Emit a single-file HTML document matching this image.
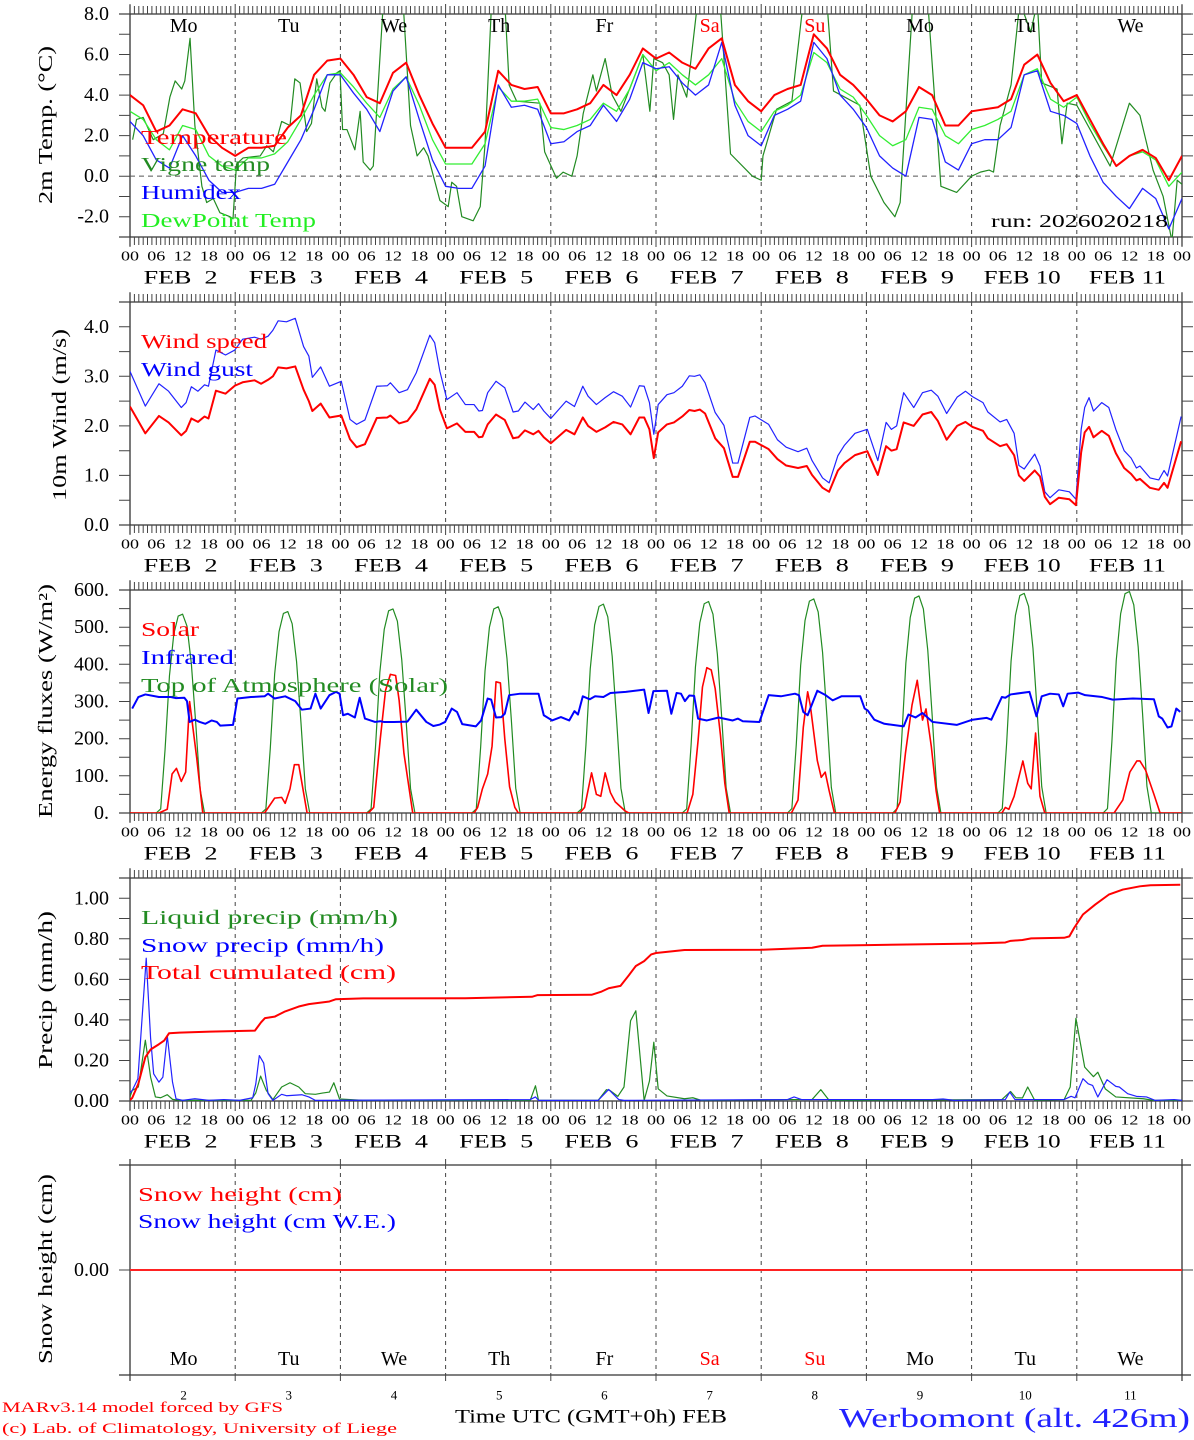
<!DOCTYPE html>
<html><head><meta charset="utf-8"><title>Werbomont meteogram</title>
<style>
html,body{margin:0;padding:0;background:#fff;}
svg{display:block;font-family:"Liberation Serif",serif;}
</style></head>
<body>
<svg id="chart" xmlns="http://www.w3.org/2000/svg" width="1194" height="1440" viewBox="0 0 1194 1440">
<rect x="0" y="0" width="1194" height="1440" fill="#fff"/>
<g id="axes"></g>
<g id="series"></g>
<g id="labels">
  <text x="46" y="125" transform="rotate(-90 46 125)" text-anchor="middle" dominant-baseline="central" font-size="20" textLength="158" lengthAdjust="spacingAndGlyphs">2m Temp. (°C)</text>
  <text x="60" y="415" transform="rotate(-90 60 415)" text-anchor="middle" dominant-baseline="central" font-size="20" textLength="172" lengthAdjust="spacingAndGlyphs">10m Wind (m/s)</text>
  <text x="46" y="701" transform="rotate(-90 46 701)" text-anchor="middle" dominant-baseline="central" font-size="20" textLength="234" lengthAdjust="spacingAndGlyphs">Energy fluxes (W/m²)</text>
  <text x="46" y="990" transform="rotate(-90 46 990)" text-anchor="middle" dominant-baseline="central" font-size="20" textLength="158" lengthAdjust="spacingAndGlyphs">Precip (mm/h)</text>
  <text x="46" y="1269" transform="rotate(-90 46 1269)" text-anchor="middle" dominant-baseline="central" font-size="20" textLength="190" lengthAdjust="spacingAndGlyphs">Snow height (cm)</text>

  <text x="141" y="138" dominant-baseline="central" font-size="20" fill="#ff0000" textLength="146" lengthAdjust="spacingAndGlyphs">Temperature</text>
  <text x="141" y="165" dominant-baseline="central" font-size="20" fill="#228b22" textLength="129" lengthAdjust="spacingAndGlyphs">Vigne temp</text>
  <text x="141" y="193" dominant-baseline="central" font-size="20" fill="#0000ff" textLength="100" lengthAdjust="spacingAndGlyphs">Humidex</text>
  <text x="141" y="221" dominant-baseline="central" font-size="20" fill="#22ee22" textLength="175" lengthAdjust="spacingAndGlyphs">DewPoint Temp</text>
  <text x="1168" y="221" text-anchor="end" dominant-baseline="central" font-size="18" fill="#000" textLength="177" lengthAdjust="spacingAndGlyphs">run: 2026020218</text>

  <text x="141" y="342" dominant-baseline="central" font-size="20" fill="#ff0000" textLength="126" lengthAdjust="spacingAndGlyphs">Wind speed</text>
  <text x="141" y="370" dominant-baseline="central" font-size="20" fill="#0000ff" textLength="112" lengthAdjust="spacingAndGlyphs">Wind gust</text>

  <text x="141" y="630" dominant-baseline="central" font-size="20" fill="#ff0000" textLength="58" lengthAdjust="spacingAndGlyphs">Solar</text>
  <text x="141" y="658" dominant-baseline="central" font-size="20" fill="#0000ff" textLength="93" lengthAdjust="spacingAndGlyphs">Infrared</text>
  <text x="141" y="686" dominant-baseline="central" font-size="20" fill="#228b22" textLength="307" lengthAdjust="spacingAndGlyphs">Top of Atmosphere (Solar)</text>

  <text x="141" y="918" dominant-baseline="central" font-size="20" fill="#228b22" textLength="257" lengthAdjust="spacingAndGlyphs">Liquid precip (mm/h)</text>
  <text x="141" y="946" dominant-baseline="central" font-size="20" fill="#0000ff" textLength="243" lengthAdjust="spacingAndGlyphs">Snow precip (mm/h)</text>
  <text x="141" y="973" dominant-baseline="central" font-size="20" fill="#ff0000" textLength="255" lengthAdjust="spacingAndGlyphs">Total cumulated (cm)</text>

  <text x="138" y="1195" dominant-baseline="central" font-size="20" fill="#ff0000" textLength="204" lengthAdjust="spacingAndGlyphs">Snow height (cm)</text>
  <text x="138" y="1222" dominant-baseline="central" font-size="20" fill="#0000ff" textLength="258" lengthAdjust="spacingAndGlyphs">Snow height (cm W.E.)</text>

  <text x="591" y="1417" text-anchor="middle" dominant-baseline="central" font-size="19" fill="#000" textLength="272" lengthAdjust="spacingAndGlyphs">Time UTC (GMT+0h) FEB</text>
  <text x="1190" y="1418" text-anchor="end" dominant-baseline="central" font-size="27" fill="#2222ff" textLength="351" lengthAdjust="spacingAndGlyphs">Werbomont (alt. 426m)</text>
  <text x="2" y="1408" dominant-baseline="central" font-size="15" fill="#ff0000" textLength="281" lengthAdjust="spacingAndGlyphs">MARv3.14 model forced by GFS</text>
  <text x="2" y="1429" dominant-baseline="central" font-size="15" fill="#ff0000" textLength="395" lengthAdjust="spacingAndGlyphs">(c) Lab. of Climatology, University of Liege</text>
</g>
</svg>
<script>
// ---------- data ----------
const dayNames = ['Mo','Tu','We','Th','Fr','Sa','Su','Mo','Tu','We'];
const dayDates = [2,3,4,5,6,7,8,9,10,11];
const weekendDays = ['Sa','Su'];

const tempHours = [0,3,6,9,12,15,18,21,24,27,30,33,36,39,42,45,48,51,54,57,60,63,66,69,72,75,78,81,84,87,90,93,96,99,102,105,108,111,114,117,120,123,126,129,132,135,138,141,144,147,150,153,156,159,162,165,168,171,174,177,180,183,186,189,192,195,198,201,204,207,210,213,216,219,222,225,228,231,234,237,240];
const temperature = [4.0,3.5,2.2,2.5,3.3,3.1,2.0,1.4,1.0, 1.4,1.4,1.5,2.4,3.0,5.0,5.7,5.8, 5.0,3.9,3.6,5.1,5.6,4.0,2.6,1.4, 1.4,1.4,2.2,5.2,4.5,4.3,4.4,3.1, 3.1,3.3,3.6,4.5,4.0,5.0,6.3,5.8, 6.1,5.6,5.3,6.3,6.8,4.5,3.7,3.2, 4.0,4.3,4.5,7.0,6.3,5.0,4.5,3.8, 3.0,2.7,3.2,4.4,4.0,2.5,2.5,3.2, 3.3,3.4,3.8,5.5,6.0,4.6,3.7,4.0, 2.8,1.6,0.5,1.0,1.3,0.9,-0.2,1.0];
const humidex = [2.7,2.0,0.8,0.4,2.0,1.0,-0.2,-0.8,-0.8, -0.6,-0.6,-0.4,0.7,1.8,3.3,5.0,5.0, 4.1,3.3,2.2,4.2,4.9,2.8,0.8,-0.5, -0.6,-0.6,0.5,4.5,3.4,3.5,3.3,1.6, 1.7,2.2,2.5,3.5,2.7,3.8,5.6,5.3, 5.4,4.6,4.0,4.5,6.6,3.5,2.0,1.5, 3.0,3.3,3.7,6.6,5.8,4.0,3.3,2.4, 1.0,0.4,0.0,2.9,2.8,0.7,0.3,1.6, 1.8,1.8,2.4,5.0,5.2,3.2,3.0,2.6, 1.0,-0.3,-1.0,-1.6,-0.6,-1.1,-2.6,-1.1];
const dewpoint = [3.2,2.8,1.8,1.3,2.5,2.3,1.0,0.5,0.3, 0.9,0.9,1.1,1.7,2.8,4.0,5.0,5.1, 4.4,3.6,2.9,4.3,4.9,3.5,1.8,0.6, 0.6,0.6,1.6,4.4,3.7,3.7,3.8,2.4, 2.3,2.5,2.8,3.6,3.2,4.3,6.0,5.2, 5.6,5.0,4.5,5.0,5.8,3.7,2.7,2.2, 3.2,3.5,4.0,6.1,5.6,4.3,3.9,3.0, 2.0,1.5,1.8,3.4,3.3,2.0,1.6,2.3, 2.5,2.8,3.2,5.0,5.3,3.8,3.4,3.9, 2.6,1.5,0.5,1.0,1.2,0.8,-0.5,0.2];

const vigneHours = [0.6,1.5,3,5.3,7.6,9.1,10.3,11.8,12.5,13.7,14.8,16.4,17.5,19,20.5,22.8,23.5,24.3,25.8,29.7,31.2,32.7,34.6,36.5,37.6,38.8,40.3,41.4,42.6,43.8,44.5,45.6,47.2,47.9,48.5,49.5,51.3,52.5,53.2,54.8,55.5,57.8,62.3,64,65.5,67,68,70.7,72.6,73.4,74.5,75.7,78.3,79.9,81,82.5,85.5,86.5,88.2,93.5,94.6,97.3,98.8,100.8,102,103.4,105.6,106.4,108.4,110,112,117,118.6,119.5,121.5,123,124,125,127,129.5,134.6,137,142,144,144.4,147.5,151,153.6,159,160.5,166.5,169,172,174.5,175.7,178.6,182,185,188.6,192,194,196,197,198.5,201,203,205.5,207,208,211.5,212.6,213.8,216,223.6,228,230.4,233.4,235.7,237.7,238.9,240];
const vigneTemp = [1.8,2.8,2.9,1.8,2.1,3.9,4.7,4.3,4.7,6.8,2.5,-0.5,-1.3,-1.1,-1.8,-2.0,-2.1,0.6,0.9,1.0,1.5,1.2,2.7,2.5,4.8,4.6,2.2,2.6,4.8,3.4,3.2,4.6,5.1,5.2,2.3,2.3,1.3,3.2,0.7,0.3,0.5,8.6,8.6,2.5,1.0,1.4,1.0,-1.2,-1.5,-0.3,-0.5,-2.0,-2.2,-1.5,1.6,8.6,8.6,4.5,3.7,3.6,1.2,-0.1,0.2,0.0,1.0,3.1,5.0,4.2,5.8,4.0,3.2,6.0,3.2,5.8,5.6,5.0,2.8,5.0,3.9,8.6,8.6,1.1,0.0,-0.2,1.0,3.3,3.7,8.6,8.6,4.2,3.5,0.0,-1.3,-2.0,-1.3,8.6,8.6,-0.5,-0.8,0.0,0.2,0.3,0.2,2.5,4.5,8.6,7.1,8.6,4.6,4.3,1.6,3.6,3.5,0.5,3.6,3.0,0.3,-1.0,-3.2,-0.2,-0.4];

const windHours = [0,3.5,6.6,8.8,11.7,12.8,14,15.5,17,17.9,19.6,21.8,23.9,25.7,28.4,29.9,31.5,32.6,33.8,35.7,37.7,39.6,40.8,41.6,43.5,45.5,48.2,50.2,51.7,53.6,56.3,58.7,59.4,61.4,63.3,65.3,68.4,69.5,70.7,72.3,74.6,76.5,78.5,79.6,80.4,81.6,83.5,85.5,87.4,88.6,90.1,92,93.2,94.4,96,99.5,101.4,103.3,104.5,106.4,108.4,110.3,112.3,114.2,116.2,117.3,118.5,119.5,120.5,122.5,124.1,126,127.6,128.8,130,131.2,133.5,135.5,137.5,138.7,141.4,142.6,145.7,147.7,149.7,152.4,154.4,155.6,158,159.5,161.5,163,165.4,168.2,170.6,172.5,173.7,174.9,176.5,178.8,180.8,182.8,184.3,186.3,188.7,190.6,192.2,194.6,195.7,198.5,200,201.7,202.8,204,206.4,207.6,208.7,209.9,211.9,214.3,215.8,217,217.8,218.8,219.8,221.7,223.3,224.9,226.8,228.4,229.6,230.4,232.7,234.7,235.9,236.7,239.8];
const windSpeed = [2.39,1.85,2.2,2.07,1.81,1.9,2.15,2.08,2.19,2.15,2.71,2.65,2.81,2.88,2.92,2.85,2.93,3.0,3.18,3.16,3.2,2.73,2.5,2.3,2.45,2.17,2.21,1.73,1.57,1.63,2.16,2.17,2.21,2.05,2.1,2.33,2.95,2.83,2.33,1.95,2.05,1.88,1.88,1.77,1.78,2.03,2.23,2.12,1.75,1.77,1.91,1.83,1.9,1.77,1.65,1.92,1.83,2.17,2.0,1.88,1.97,2.08,2.03,1.83,2.17,2.17,1.93,1.35,1.87,2.03,2.07,2.19,2.32,2.3,2.33,2.25,1.75,1.55,0.97,0.97,1.68,1.68,1.53,1.33,1.2,1.15,1.19,1.01,0.75,0.67,1.1,1.25,1.41,1.49,1.01,1.59,1.5,1.53,2.07,2.0,2.23,2.28,2.1,1.72,2.0,2.08,1.98,1.9,1.75,1.59,1.63,1.41,1.0,0.89,1.1,0.98,0.57,0.42,0.55,0.52,0.4,1.47,1.87,1.98,1.77,1.9,1.8,1.45,1.15,1.03,0.9,0.93,0.75,0.71,0.85,0.75,1.69];
const windGust = [3.1,2.4,2.85,2.7,2.37,2.47,2.79,2.7,2.83,2.8,3.53,3.43,3.53,3.75,3.79,3.75,3.81,3.93,4.12,4.1,4.17,3.6,3.41,2.98,3.19,2.8,2.9,2.13,2.03,2.12,2.8,2.81,2.87,2.67,2.73,3.07,3.83,3.68,3.1,2.53,2.67,2.43,2.43,2.3,2.31,2.67,2.9,2.77,2.28,2.3,2.48,2.33,2.45,2.3,2.15,2.5,2.39,2.8,2.6,2.43,2.57,2.69,2.6,2.38,2.81,2.8,2.47,1.83,2.43,2.63,2.67,2.8,3.01,3.0,3.03,2.87,2.27,2.01,1.25,1.25,2.17,2.2,2.03,1.72,1.57,1.48,1.55,1.3,0.95,0.85,1.4,1.61,1.85,1.93,1.3,2.07,1.93,2.0,2.67,2.37,2.67,2.72,2.6,2.25,2.58,2.7,2.59,2.47,2.28,2.08,2.13,1.85,1.2,1.13,1.43,1.19,0.67,0.55,0.71,0.67,0.52,1.93,2.37,2.57,2.3,2.47,2.37,1.93,1.5,1.35,1.15,1.19,0.95,0.91,1.1,0.99,2.19];

const toaDayHours = [6,7,8,9,10,11,12,13,14,15,16,17];
const toaDaily = [
 [0,11,171,369,482,530,535,503,401,241,64,0],
 [0,11,173,374,488,537,542,509,407,244,65,0],
 [0,11,176,379,494,544,549,516,412,247,66,0],
 [0,11,178,383,500,549,555,522,416,250,67,0],
 [0,11,180,388,506,556,562,528,422,253,67,0],
 [0,11,182,393,512,563,569,535,427,256,68,0],
 [0,12,184,397,518,570,576,541,432,259,69,0],
 [0,12,187,403,526,578,584,549,438,263,70,0],
 [0,12,189,408,532,585,591,556,443,266,71,0],
 [0,12,191,411,536,590,596,560,447,268,72,0]
];
const solarHours = [0,6.6,8.5,9.6,10.6,11.7,12.7,13.6,15.2,16.6,30.7,33,34.6,35.4,36.5,37.5,38.5,40.4,54.4,55.6,57.1,58.3,59.4,60.6,61.4,62.5,64.5,78.5,79.3,80.4,81.6,82.6,83.5,84.5,85.5,86.6,87.8,88.6,102.6,103.7,105.3,106.4,107.4,108.4,109.6,110.7,113,113.8,127.1,128.4,129.6,130.6,131.6,132.6,133.5,134.7,135.7,136.7,150.9,152.4,153.6,154.6,155.2,156.8,157.7,158.6,159.5,160.7,174.5,175.7,176.9,178.4,179.6,180.8,181.6,182.8,183.9,184.7,198.9,199.7,200.5,201.7,203.7,204.8,205.6,206.6,207.6,208.7,224.5,226.5,228.1,229.7,230.4,231.7,233.6,235,240];
const solarFlux = [0,0,10,105,120,85,110,300,150,0,0,40,42,26,65,130,130,0,0,15,200,330,373,370,303,160,0,0,15,65,105,180,353,350,200,70,15,0,0,15,108,50,45,108,55,30,5,0,0,50,195,339,391,385,335,210,80,0,0,35,230,326,290,141,96,110,60,0,0,30,160,290,357,250,280,180,60,0,0,15,10,45,140,80,65,215,45,0,0,35,110,140,140,115,50,0,0];
const irHours = [0.5,1.9,3.5,6.6,9.3,10.5,12.4,13,13.6,14.8,15.9,17.2,18.6,19.8,20.6,23.5,24.5,27.6,30.7,31.5,33,35.4,37.7,39.2,41.2,42.3,43.5,45.5,47,47.8,48.6,49.7,51.3,52.4,53.6,55.9,57.1,57.9,60.2,63.3,65.3,67.6,69.2,70.7,71.9,73.4,74.6,75.8,78.9,80.1,81.6,82.4,83.5,84.7,85.5,86.5,89,93.2,94.4,96.3,98.3,100.2,101.4,102.2,103.3,104.9,106.1,108,109.6,113.1,117.3,118.3,119.4,122.5,123.5,124.7,125.7,126.6,127.6,128.7,129.6,131.6,134.3,137.5,138.7,139.8,143.6,145.7,148.5,151.7,152.6,153.6,154.6,156.8,158.7,160.3,162.3,166.6,167.6,168.3,169.8,172.1,176.5,177.6,179.2,180.8,183.1,188.6,192.2,195.4,196.5,198.9,199.7,200.9,205.2,206.8,208,209.9,211.9,212.9,213.9,216.3,217.9,221.8,224.2,228.8,233.6,234.7,235.5,236.7,237.6,238.7,239.6];
const irFlux = [281,312,319,312,312,309,310,301,245,251,245,240,249,245,235,237,308,312,314,321,308,314,301,278,281,321,281,317,326,321,263,267,257,310,254,245,247,245,245,246,278,245,234,238,245,281,272,239,233,249,308,305,257,258,267,317,321,321,263,249,258,249,274,265,314,306,314,312,323,326,332,269,328,329,267,323,321,301,316,315,254,249,257,249,254,247,245,317,314,321,317,272,263,329,317,303,314,314,281,276,251,240,233,265,257,269,245,237,251,256,251,312,310,319,326,260,314,321,319,287,321,324,317,312,305,308,306,260,254,230,233,281,272];

const cumHours = [0,0.5,1.9,3.5,4.7,6.6,7.8,8.9,11.3,18.3,28.5,29.9,30.8,33,35.4,38.5,40.8,45.5,47,53.2,76.5,91.7,92.9,105.3,107.6,109.2,111.9,113.8,115.4,117.3,118.9,120,126.5,143.8,150,155.6,158,168.2,191.8,199.7,200.9,203.6,205.6,213.1,214.3,215.4,217.4,220.2,223.3,226.5,230.4,232.8,239.6];
const cumulated = [0.005,0.015,0.085,0.216,0.254,0.28,0.298,0.334,0.337,0.342,0.347,0.388,0.409,0.416,0.442,0.466,0.478,0.491,0.502,0.506,0.507,0.514,0.522,0.524,0.54,0.556,0.568,0.62,0.666,0.69,0.723,0.73,0.745,0.746,0.751,0.756,0.766,0.769,0.776,0.782,0.79,0.794,0.802,0.805,0.812,0.854,0.92,0.969,1.018,1.043,1.059,1.064,1.067];
const liquidHours = [0,0.5,1.9,3.5,4.7,5.8,7,8.5,9.7,11.3,27.6,28.7,29.8,31.1,32.6,34.6,36.5,38.5,40,42.3,43.9,45.5,46.5,47.8,53.2,91.3,92.5,93.2,106.8,108.7,109.5,111.3,112.7,114.2,115.4,117.3,118.5,119.5,120.5,122.5,126.5,128.4,130.4,150,155.6,157.6,159.5,198.9,200.9,202.1,203.6,204.8,206.4,213.1,214.5,215.8,217.8,219.8,220.8,222.5,224.9,231.2,233.5,240];
const liquidPrecip = [0.02,0.052,0.069,0.30,0.118,0.02,0.016,0.031,0.008,0.003,0.003,0.04,0.123,0.052,0.007,0.069,0.09,0.069,0.036,0.033,0.039,0.044,0.09,0.01,0.003,0.003,0.075,0.003,0.003,0.056,0.052,0.023,0.069,0.396,0.445,0.003,0.098,0.29,0.06,0.025,0.011,0.016,0.003,0.007,0.007,0.056,0.003,0.007,0.047,0.016,0.015,0.069,0.003,0.007,0.069,0.408,0.167,0.12,0.142,0.06,0.02,0.011,0.003,0.003];
const snowHours = [0,0.5,1.8,3.7,4.7,5.4,6.6,7.5,8.5,9.7,10.5,12,14.8,18,21.4,25,28,28.7,29.5,30.5,31.5,32.6,34.6,35.7,39.2,40.8,42.3,91.3,92.5,93.2,106.8,109.2,111.5,112.7,150,151.5,153.2,183.1,185.5,188,199.7,200.7,201.9,213.1,214.7,215.6,217.4,218.6,219.6,220.8,222.9,224.9,225.7,227.6,229.6,231.9,233.9,238.2,240];
const snowPrecip = [0.04,0.052,0.11,0.704,0.31,0.134,0.093,0.118,0.322,0.093,0.011,0.003,0.011,0.003,0.007,0.003,0.016,0.085,0.224,0.187,0.036,0.003,0.033,0.026,0.031,0.02,0.003,0.007,0.02,0.003,0.003,0.057,0.007,0.003,0.007,0.02,0.007,0.007,0.01,0.003,0.007,0.044,0.007,0.007,0.023,0.016,0.11,0.085,0.077,0.02,0.105,0.072,0.069,0.036,0.023,0.02,0.003,0.007,0.003];

const snowHeightHours = [0,240];
const snowHeight = [0,0];

const tempTicks = [-2,0,2,4,6,8];
const tempTickLabels = ['-2.0','0.0','2.0','4.0','6.0','8.0'];
const windTicks = [0,1,2,3,4];
const windTickLabels = ['0.0','1.0','2.0','3.0','4.0'];
const energyTicks = [0,100,200,300,400,500,600];
const energyTickLabels = ['0.','100.','200.','300.','400.','500.','600.'];
const precipTicks = [0,0.2,0.4,0.6,0.8,1.0];
const precipTickLabels = ['0.00','0.20','0.40','0.60','0.80','1.00'];
const snowTicks = [0];
const snowTickLabels = ['0.00'];

// ---------- drawing ----------
const NS = 'http://www.w3.org/2000/svg';
const axesG = document.getElementById('axes');
const seriesG = document.getElementById('series');
const labelsG = document.getElementById('labels');
function mk(tag, attrs, parent){
  const e = document.createElementNS(NS, tag);
  for (const k in attrs) e.setAttribute(k, attrs[k]);
  parent.appendChild(e);
  return e;
}
const X0 = 130, X1 = 1182;
function xh(h){ return X0 + h * (X1 - X0) / 240; }
const P = [
  {top:14,  bot:237,  min:-3, max:8,   minorStep:1,   minorFrom:-3, name:'temp'},
  {top:302, bot:525,  min:0,  max:4.5, minorStep:0.5, minorFrom:0,  name:'wind'},
  {top:590, bot:813,  min:0,  max:600, minorStep:50,  minorFrom:0,  name:'energy'},
  {top:878, bot:1101, min:0,  max:1.1, minorStep:0.1, minorFrom:0,  name:'precip'},
  {top:1165,bot:1375, min:-1, max:1,   minorStep:0,   minorFrom:0,  name:'snow'}
];
function yv(p, v){ return p.bot - (v - p.min) / (p.max - p.min) * (p.bot - p.top); }
const ticksSets = [[tempTicks,tempTickLabels],[windTicks,windTickLabels],[energyTicks,energyTickLabels],[precipTicks,precipTickLabels],[snowTicks,snowTickLabels]];

P.forEach((p, pi) => {
  const cp = mk('clipPath', {id:'clip'+pi}, axesG);
  mk('rect', {x:X0, y:p.top, width:X1-X0, height:p.bot-p.top}, cp);
  const bt = mk('line', {x1:119, x2:1191, y1:p.top, y2:p.top, stroke:'#333', 'stroke-width':1.3}, axesG);
  
  
  const bb = mk('line', {x1:119, x2:1191, y1:p.bot, y2:p.bot, stroke:'#333', 'stroke-width':1.3}, axesG);
  
  
  const ext = pi === 4 ? 6 : 9;
  const bl = mk('line', {x1:X0, x2:X0, y1:p.top-ext, y2:p.bot+ext, stroke:'#333', 'stroke-width':1.3}, axesG);
  
  
  const br = mk('line', {x1:X1, x2:X1, y1:p.top-ext, y2:p.bot+ext, stroke:'#333', 'stroke-width':1.3}, axesG);
  
  
  let d = '';
  if (pi < 4) {
    for (let h = 0; h <= 240; h++) {
      const x = xh(h).toFixed(1);
      const L = (h % 24 === 0) ? 10 : 8;
      d += `M${x},${p.top}v${-L}M${x},${p.bot}v${L}`;
    }
  } else {
    for (let h = 0; h <= 240; h += 24) {
      const x = xh(h).toFixed(1);
      d += `M${x},${p.top}v-6M${x},${p.bot}v6`;
    }
  }
  const xt = mk('path', {d:d, stroke:'#444', 'stroke-width':1, fill:'none'}, axesG);
  
  
  let dd = '';
  for (let h = 24; h < 240; h += 24) { const x = xh(h).toFixed(1); dd += `M${x},${p.top}V${p.bot}`; }
  const ds = mk('path', {d:dd, stroke:'#444', 'stroke-width':1, 'stroke-dasharray':'4,4', fill:'none'}, axesG);
  
  
  let yd = '';
  if (p.minorStep > 0) {
    for (let v = p.minorFrom; v <= p.max + 1e-9; v += p.minorStep) {
      const y = yv(p, v).toFixed(1);
      yd += `M${X0},${y}h-11M${X1},${y}h11`;
    }
  } else {
    const y = yv(p, 0).toFixed(1);
    yd += `M${X0},${y}h-11M${X1},${y}h11`;
  }
  const yt = mk('path', {d:yd, stroke:'#444', 'stroke-width':1, fill:'none'}, axesG);
  
  
  const [tv, tl] = ticksSets[pi];
  tv.forEach((v, i) => {
    const t = mk('text', {x:109, y:yv(p, v), 'text-anchor':'end', 'dominant-baseline':'central', 'font-size':20, fill:'#000'}, labelsG);
    
    
    t.textContent = tl[i];
  });
  if (pi < 4) {
    for (let h = 0; h <= 240; h += 6) {
      const hh = String(h % 24).padStart(2, '0');
      const t = mk('text', {x:xh(h), y:p.bot+20, 'text-anchor':'middle', 'dominant-baseline':'central', 'font-size':14, fill:'#000', textLength:18, lengthAdjust:'spacingAndGlyphs'}, labelsG);
      
      
      t.textContent = hh;
    }
    dayDates.forEach((dt, i) => {
      const s = dt < 10 ? 'FEB\u00a0\u00a0' + dt : 'FEB ' + dt;
      const t = mk('text', {x:xh(i*24+12)-2, y:p.bot+41, 'text-anchor':'middle', 'dominant-baseline':'central', 'font-size':19, fill:'#000', textLength:(dt<10?74:77), lengthAdjust:'spacingAndGlyphs'}, labelsG);
      
      
      t.textContent = s;
    });
  }
});

const zl = mk('line', {x1:X0, x2:X1, y1:yv(P[0],0), y2:yv(P[0],0), stroke:'#555', 'stroke-width':1, 'stroke-dasharray':'5,4'}, axesG);



dayNames.forEach((n, i) => {
  const col = weekendDays.includes(n) ? '#ff0000' : '#000';
  const t1 = mk('text', {x:xh(i*24+12)+1, y:26, 'text-anchor':'middle', 'dominant-baseline':'central', 'font-size':20, fill:col}, labelsG);
  
  
  t1.textContent = n;
  const t2 = mk('text', {x:xh(i*24+12)+1, y:1359, 'text-anchor':'middle', 'dominant-baseline':'central', 'font-size':20, fill:col}, labelsG);
  
  
  t2.textContent = n;
  const t3 = mk('text', {x:xh(i*24+12)+1, y:1395, 'text-anchor':'middle', 'dominant-baseline':'central', 'font-size':13, fill:'#000'}, labelsG);
  
  
  t3.textContent = dayDates[i];
});

function linePath(hours, vals, p){
  let d = '';
  for (let i = 0; i < hours.length; i++) {
    d += (i ? 'L' : 'M') + xh(hours[i]).toFixed(2) + ',' + yv(p, vals[i]).toFixed(2);
  }
  return d;
}
function drawSeries(hours, vals, pi, color, w){
  return mk('path', {d:linePath(hours, vals, P[pi]), stroke:color, 'stroke-width':w, fill:'none', 'stroke-linejoin':'round', 'clip-path':'url(#clip'+pi+')'}, seriesG);
}

const sV = drawSeries(vigneHours, vigneTemp, 0, '#228b22', 1.2);


const sD = drawSeries(tempHours, dewpoint, 0, '#33ee33', 1.3);


const sH = drawSeries(tempHours, humidex, 0, '#2222ff', 1.3);


const sT = drawSeries(tempHours, temperature, 0, '#ff0000', 2);



const sG = drawSeries(windHours, windGust, 1, '#2222ff', 1.2);


const sW = drawSeries(windHours, windSpeed, 1, '#ff0000', 2);



const toaH = [], toaV = [];
toaDaily.forEach((row, di) => {
  row.forEach((v, k) => { toaH.push(di*24 + toaDayHours[k]); toaV.push(v); });
});
toaH.unshift(0); toaV.unshift(0); toaH.push(240); toaV.push(0);
const sTOA = drawSeries(toaH, toaV, 2, '#228b22', 1.2);


const sS = drawSeries(solarHours, solarFlux, 2, '#ff0000', 1.6);


const sI = drawSeries(irHours, irFlux, 2, '#0000ff', 2);



const sL = drawSeries(liquidHours, liquidPrecip, 3, '#228b22', 1.2);


const sSn = drawSeries(snowHours, snowPrecip, 3, '#2222ff', 1.2);


const sC = drawSeries(cumHours, cumulated, 3, '#ff0000', 2);



const sSH = drawSeries(snowHeightHours, snowHeight, 4, '#ff2222', 2);


</script>
</body></html>
